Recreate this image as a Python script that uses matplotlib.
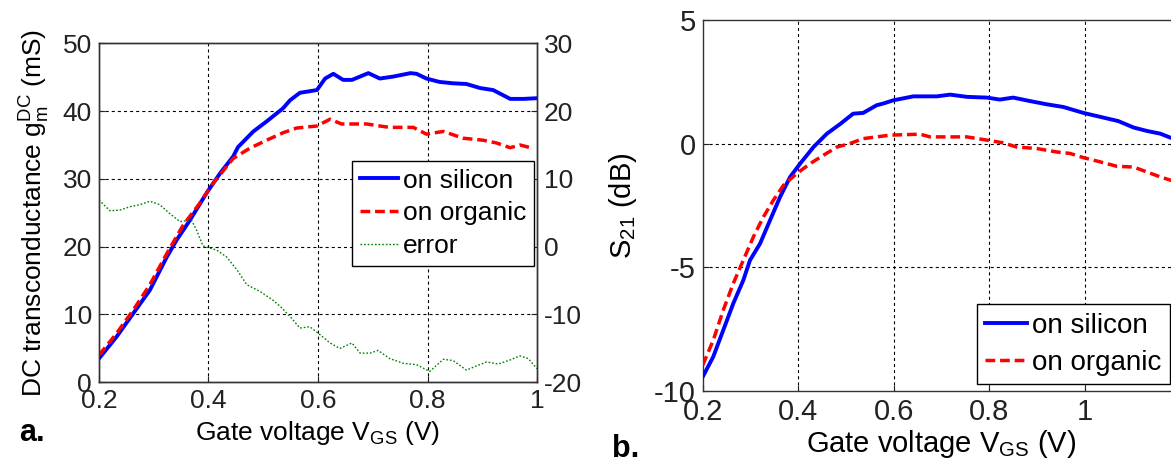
import matplotlib
matplotlib.use("Agg")
import matplotlib.pyplot as plt

plt.rcParams['font.family'] = ['Liberation Sans', 'DejaVu Sans']
plt.rcParams['font.size'] = 19
plt.rcParams['axes.unicode_minus'] = False
plt.rcParams['lines.scale_dashes'] = False
plt.rcParams['mathtext.fontset'] = 'custom'
plt.rcParams['mathtext.rm'] = 'Liberation Sans'
plt.rcParams['mathtext.it'] = 'Liberation Sans'

# ---- panel a: DC transconductance vs gate voltage ----
gm_si_v = [0.2, 0.232, 0.263, 0.293, 0.324, 0.342, 0.366, 0.398, 0.421, 0.445, 0.454,
           0.482, 0.505, 0.536, 0.549, 0.567, 0.598, 0.613, 0.628, 0.646, 0.662, 0.692,
           0.713, 0.738, 0.769, 0.780, 0.798, 0.822, 0.847, 0.871, 0.896, 0.920, 0.951,
           0.975, 1.0]
gm_si = [3.5, 6.7, 10.2, 13.6, 18.5, 21.0, 23.9, 28.1, 30.8, 33.3, 34.7,
         37.0, 38.4, 40.4, 41.6, 42.7, 43.1, 44.8, 45.5, 44.6, 44.6, 45.6,
         44.8, 45.1, 45.6, 45.5, 44.8, 44.3, 44.1, 44.0, 43.4, 43.1, 41.8,
         41.8, 41.9]

gm_org_v = [0.2, 0.232, 0.263, 0.293, 0.324, 0.354, 0.384, 0.409, 0.445, 0.475, 0.506,
            0.536, 0.561, 0.598, 0.622, 0.643, 0.689, 0.713, 0.731, 0.774, 0.798, 0.829,
            0.865, 0.902, 0.926, 0.951, 0.969, 0.993]
gm_org = [4.0, 7.2, 10.7, 14.4, 19.0, 23.2, 26.4, 29.4, 33.0, 34.5, 35.7,
          36.8, 37.5, 37.8, 38.8, 38.1, 38.1, 37.8, 37.6, 37.6, 36.6, 37.0,
          36.0, 35.7, 35.3, 34.6, 35.0, 34.5]

err_v = [0.2, 0.22, 0.238, 0.257, 0.275, 0.293, 0.311, 0.329, 0.348, 0.369, 0.378,
         0.390, 0.415, 0.433, 0.452, 0.470, 0.494, 0.518, 0.531, 0.549, 0.567, 0.585,
         0.604, 0.622, 0.640, 0.662, 0.677, 0.695, 0.710, 0.731, 0.756, 0.780, 0.804,
         0.829, 0.847, 0.871, 0.889, 0.908, 0.929, 0.951, 0.969, 0.984, 1.0]
err = [6.9, 5.3, 5.4, 5.9, 6.2, 6.7, 6.2, 4.9, 3.7, 3.9, 2.5,
       0.1, -0.5, -1.5, -3.4, -5.6, -6.6, -7.9, -8.8, -10.3, -12.0, -11.8,
       -13.0, -14.2, -15.0, -14.2, -15.7, -15.7, -15.3, -16.5, -17.2, -17.4, -18.4,
       -16.6, -16.8, -18.2, -17.6, -17.0, -17.3, -16.7, -16.1, -16.5, -18.0]

a_xticks = [0.2, 0.4, 0.6, 0.8, 1.0]
a_xticklabels = ['0.2', '0.4', '0.6', '0.8', '1']
a_yticks = [0, 10, 20, 30, 40, 50]
a_y2ticks = [-20, -10, 0, 10, 20, 30]

# ---- panel b: S21 vs gate voltage ----
s21_si_v = [0.2, 0.222, 0.243, 0.264, 0.285, 0.299, 0.32, 0.341, 0.362, 0.383, 0.404,
            0.432, 0.460, 0.487, 0.515, 0.536, 0.564, 0.578, 0.599, 0.641, 0.690, 0.718,
            0.753, 0.795, 0.822, 0.850, 0.885, 0.920, 0.955, 0.997, 1.039, 1.070, 1.102,
            1.130, 1.158, 1.179, 1.2]
s21_si = [-9.44, -8.63, -7.55, -6.47, -5.53, -4.72, -4.05, -3.10, -2.16, -1.35, -0.81,
          -0.14, 0.40, 0.78, 1.21, 1.24, 1.55, 1.62, 1.75, 1.91, 1.91, 1.98,
          1.89, 1.86, 1.78, 1.86, 1.72, 1.59, 1.48, 1.24, 1.05, 0.91, 0.65,
          0.51, 0.40, 0.24, 0.15]

s21_org_v = [0.2, 0.222, 0.243, 0.264, 0.285, 0.306, 0.327, 0.348, 0.369, 0.397, 0.425,
             0.453, 0.481, 0.508, 0.536, 0.564, 0.592, 0.655, 0.676, 0.753, 0.788, 0.829,
             0.857, 0.899, 0.941, 0.969, 0.997, 1.032, 1.067, 1.102, 1.130, 1.158, 1.179,
             1.2]
s21_org = [-8.97, -7.96, -6.74, -5.66, -4.72, -3.78, -2.97, -2.29, -1.69, -1.21, -0.81,
           -0.47, -0.14, 0.0, 0.20, 0.27, 0.34, 0.38, 0.27, 0.27, 0.16, 0.03,
           -0.14, -0.20, -0.34, -0.40, -0.57, -0.74, -0.92, -0.95, -1.15, -1.35, -1.48,
           -1.55]

b_xticks = [0.2, 0.4, 0.6, 0.8, 1.0]
b_xticklabels = ['0.2', '0.4', '0.6', '0.8', '1']
b_yticks = [-10, -5, 0, 5]

blue = '#0000ff'
red = '#ff0000'
green = '#008000'


def style_axes(ax, size):
    for sp in ax.spines.values():
        sp.set_color('#333333')
        sp.set_linewidth(1.0)
    ax.tick_params(direction='in', length=4, width=0.8, colors='#222222',
                   labelcolor='#222222', labelsize=size)
    ax.tick_params(axis='y', pad=5)
    ax.tick_params(axis='x', pad=5)


def grid_lines(ax, xs, ys):
    ax.grid(False)
    for x in xs:
        ax.axvline(x, color='black', lw=0.8, ls=(0, (2.2, 2.2)), zorder=0.5)
    for y in ys:
        ax.axhline(y, color='black', lw=0.8, ls=(0, (2.2, 2.2)), zorder=0.5)


fig = plt.figure(figsize=(11.71, 4.63), dpi=100)

# Panel a
fs_a = 19
ax1 = fig.add_axes([0.0845, 0.1743, 0.3741, 0.7322])
ax2 = ax1.twinx()
ax1.set_xlim(0.2, 1.0)
ax1.set_ylim(0, 50)
ax2.set_ylim(-20, 30)
grid_lines(ax1, a_xticks[1:-1], a_yticks[1:-1])
l1, = ax1.plot(gm_si_v, gm_si, color=blue, lw=2.8, label='on silicon', zorder=3)
l2, = ax1.plot(gm_org_v, gm_org, color=red, lw=2.5, dashes=(7, 3.5),
               label='on organic', zorder=4)
l3, = ax2.plot(err_v, err, color=green, lw=1.0, ls=(0, (1.2, 1.4)), label='error')
ax1.set_xticks(a_xticks)
ax1.set_xticklabels(a_xticklabels)
ax1.set_yticks(a_yticks)
ax2.set_yticks(a_y2ticks)
style_axes(ax1, fs_a)
style_axes(ax2, fs_a)
ax1.set_xlabel(r'Gate voltage V$_\mathregular{GS}$ (V)', labelpad=4, fontsize=fs_a)
ax1.set_ylabel(r'DC transconductance g$_\mathregular{m}^\mathregular{DC}$ (mS)',
               labelpad=8, fontsize=fs_a)
leg1 = ax2.legend([l1, l2, l3], ['on silicon', 'on organic', 'error'],
                  loc='upper left', bbox_to_anchor=(0.577, 0.654), fontsize=fs_a,
                  handlelength=1.45, handletextpad=0.2, labelspacing=0.33,
                  borderpad=0.3, borderaxespad=0, fancybox=False,
                  framealpha=1, edgecolor='black')
leg1.get_frame().set_linewidth(1.0)

# Panel b
fs_b = 21
fs_b_leg = 20
ax3 = fig.add_axes([0.6001, 0.1562, 0.4079, 0.8006])
ax3.set_xlim(0.2, 1.2)
ax3.set_ylim(-10, 5)
grid_lines(ax3, b_xticks[1:], b_yticks[1:-1])
l4, = ax3.plot(s21_si_v, s21_si, color=blue, lw=2.8, label='on silicon', zorder=3)
l5, = ax3.plot(s21_org_v, s21_org, color=red, lw=2.5, dashes=(7, 3.5),
               label='on organic', zorder=4)
ax3.set_xticks(b_xticks)
ax3.set_xticklabels(b_xticklabels)
ax3.set_yticks(b_yticks)
style_axes(ax3, fs_b)
ax3.set_xlabel(r'Gate voltage V$_\mathregular{GS}$ (V)', labelpad=2, fontsize=fs_b)
ax3.set_ylabel(r'S$_\mathregular{21}$ (dB)', labelpad=11, fontsize=fs_b)
leg2 = ax3.legend([l4, l5], ['on silicon', 'on organic'],
                  loc='lower left', bbox_to_anchor=(0.574, 0.018), fontsize=fs_b_leg,
                  handlelength=1.5, handletextpad=0.18, labelspacing=0.4,
                  borderpad=0.3, borderaxespad=0, fancybox=False,
                  framealpha=1, edgecolor='black')
leg2.get_frame().set_linewidth(1.0)

fig.text(0.016, 0.048, 'a.', fontsize=22, fontweight='bold')
fig.text(0.523, 0.013, 'b.', fontsize=22, fontweight='bold')

fig.savefig('out.png', dpi=100)
